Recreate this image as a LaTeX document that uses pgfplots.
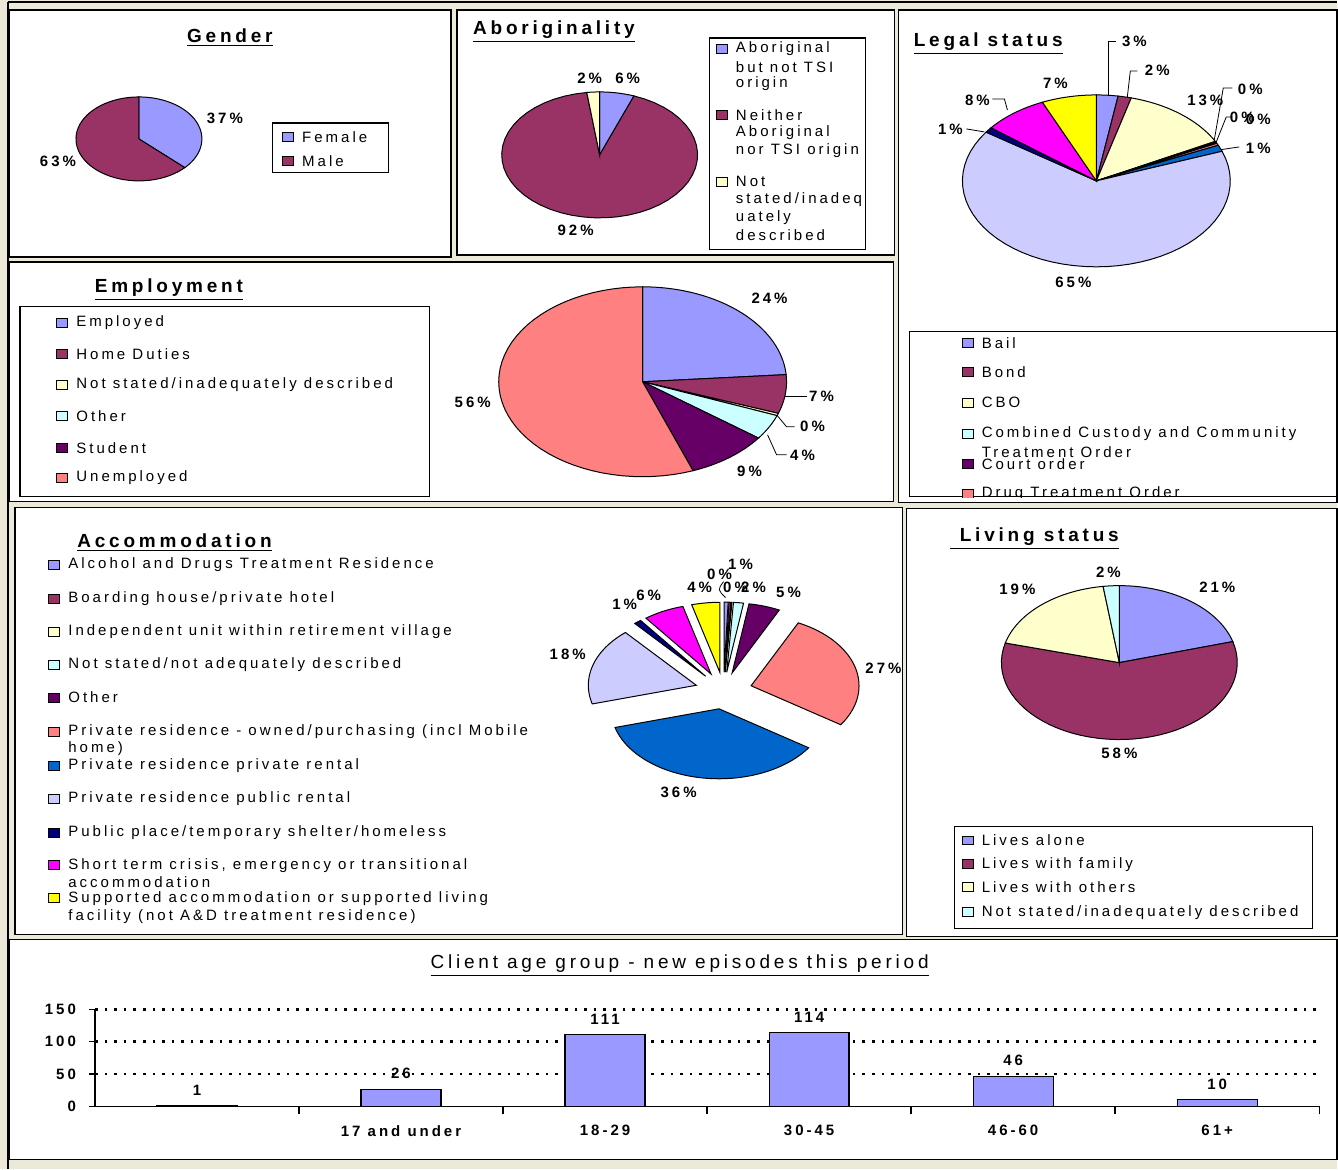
\documentclass[border=0pt]{standalone}
\usepackage{pgfplots}
\pgfplotsset{compat=1.18}
\usepackage{fontspec}
\setmainfont{Liberation Sans}[LetterSpace=20]

% Excel default chart palette
\definecolor{cPeri}{RGB}{153,153,255}
\definecolor{cPlum}{RGB}{153,51,102}
\definecolor{cIvory}{RGB}{255,255,204}
\definecolor{cTurq}{RGB}{204,255,255}
\definecolor{cDPurple}{RGB}{102,0,102}
\definecolor{cCoral}{RGB}{255,128,128}
\definecolor{cOcean}{RGB}{0,102,204}
\definecolor{cIce}{RGB}{204,204,255}
\definecolor{cDBlue}{RGB}{0,0,128}
\definecolor{cMagenta}{RGB}{255,0,255}
\definecolor{cYellow}{RGB}{255,255,0}
\definecolor{cGap}{RGB}{236,233,216}

\newcommand{\fs}{\fontsize{7.5}{8.5}\selectfont}
\tikzset{
  pct/.style={font=\fs\bfseries, inner sep=0pt},
  leg/.style={font=\fs, inner sep=0pt, anchor=west},
  ttl/.style={font=\fontsize{9.5}{11}\selectfont\bfseries, inner sep=0pt},
  ldr/.style={draw=black, line width=0.4pt},
}
\pgfplotsset{pie/.style={hide axis, scale only axis, clip=false,
  xmin=-1, xmax=1, ymin=-1, ymax=1, anchor=center}}

% slices clockwise from 12 o'clock; #1 explode (fraction of radius), #2 value/colour list
\newcommand{\slices}[2]{%
  \gdef\cum{0}%
  \foreach \sv/\sc in {#2}{%
    \pgfmathsetmacro\shi{90-3.6*\cum}%
    \pgfmathsetmacro\slo{90-3.6*(\cum+\sv)}%
    \pgfmathsetmacro\sdx{#1*cos((\shi+\slo)/2)}%
    \pgfmathsetmacro\sdy{#1*sin((\shi+\slo)/2)}%
    \edef\tmp{\noexpand\addplot[fill=\sc, draw=black, line width=0.5pt,
      domain=\slo:\shi, samples=50] ({\sdx+cos(x)},{\sdy+sin(x)}) -- (\sdx,\sdy) -- cycle;}%
    \tmp
    \pgfmathsetmacro\ncum{\cum+\sv}%
    \global\let\cum\ncum
  }%
}
% #1,#2 centre (px), #3,#4 radii (px), #5 explode, #6 data
\newcommand{\piechart}[6]{%
  \begin{axis}[pie, at={(#1*0.5pt,-#2*0.5pt)}, width=#3pt, height=#4pt]
    \slices{#5}{#6}
  \end{axis}}
\newcommand{\legitem}[4]{%
  \filldraw[fill=#3, draw=black, line width=0.5pt] (#1,#2-4.5) rectangle (#1+11,#2+4.5);
  \node[leg] at (#1+19,#2) {#4};}

\begin{document}
\begin{tikzpicture}
\begin{scope}[x=0.5pt,y=-0.5pt]
  \fill[cGap] (0,0) rectangle (1338,1170);
  \draw[line width=0.6pt] (8,2) -- (1338,2);
  \draw[line width=0.6pt] (8,2) -- (8,1170);
  \foreach \a/\b/\c/\d in {9/10/451/257, 457/10/895/255, 899/10/1338/503,
      9/262/894/502, 15/508/903/935, 907/509/1338/937, 9/940/1338/1160}
    \filldraw[fill=white, draw=black, line width=0.8pt] (\a,\b) rectangle (\c,\d);

  % Gender
  \node[ttl] at (230,38) {\underline{Gender}};
  \node[pct] at (225,118) {37\%};
  \node[pct] at (58,161) {63\%};
  \draw[line width=0.6pt] (273,123) rectangle (389,173);
  \legitem{283}{137}{cPeri}{Female}
  \legitem{283}{161}{cPlum}{Male}

  % Aboriginality
  \node[ttl, anchor=west] at (473,32) {\underline{Aboriginality}};
  \node[pct] at (590,78) {2\%};
  \node[pct] at (628,78) {6\%};
  \node[pct] at (576,230) {92\%};
  \draw[line width=0.6pt] (710,38) rectangle (866,250);
  \legitem{717}{49}{cPeri}{Aboriginal}
  \node[leg] at (736,67) {but not TSI};
  \node[leg] at (736,84) {origin};
  \legitem{717}{115}{cPlum}{Neither}
  \node[leg] at (736,133) {Aboriginal};
  \node[leg] at (736,151) {nor TSI origin};
  \legitem{717}{182}{cIvory}{Not}
  \node[leg] at (736,200) {stated/inadeq};
  \node[leg] at (736,218) {uately};
  \node[leg] at (736,235) {described};

  % Legal status
  \node[ttl, anchor=west] at (914,44) {\underline{Legal status}};
  \draw[ldr] (1109,96) -- (1109,41) -- (1117,41);
  \node[pct] at (1135,41) {3\%};
  \draw[ldr] (1128,97) -- (1131,71) -- (1138,71);
  \node[pct] at (1158,70) {2\%};
  \node[pct] at (1206,100) {13\%};
  \draw[ldr] (1215,140) -- (1224,88) -- (1233,88);
  \node[pct] at (1251,89) {0\%};
  \draw[ldr] (1217,142) -- (1227,117) -- (1233,117);
  \node[pct] at (1243,117) {0\%};
  \node[pct] at (1259,119) {0\%};
  \draw[ldr] (1220,150) -- (1240,147);
  \node[pct] at (1259,148) {1\%};
  \node[pct] at (1074,283) {65\%};
  \draw[ldr] (985,132) -- (967,129);
  \node[pct] at (951,129) {1\%};
  \draw[ldr] (1008,110) -- (1005,99) -- (993,99);
  \node[pct] at (978,100) {8\%};
  \node[pct] at (1056,83) {7\%};
  \begin{scope}
    \clip (909,331) rectangle (1338,498);
    \draw[line width=0.6pt] (910,332) rectangle (1345,497);
    \legitem{963}{343}{cPeri}{Bail}
    \legitem{963}{372}{cPlum}{Bond}
    \legitem{963}{403}{cIvory}{CBO}
    \legitem{963}{434}{cTurq}{Combined Custody and Community}
    \node[leg] at (982,452) {Treatment Order};
    \legitem{963}{464}{cDPurple}{Court order}
    \legitem{963}{494}{cCoral}{Drug Treatment Order}
  \end{scope}

  % Employment
  \node[ttl] at (169,290) {\underline{Employment}};
  \draw[line width=0.6pt] (20,307) rectangle (430,497);
  \legitem{57}{323}{cPeri}{Employed}
  \legitem{57}{354}{cPlum}{Home Duties}
  \legitem{57}{385}{cIvory}{Not stated/inadequately described}
  \legitem{57}{416}{cTurq}{Other}
  \legitem{57}{448}{cDPurple}{Student}
  \legitem{57}{478}{cCoral}{Unemployed}
  \node[pct] at (770,299) {24\%};
  \draw[ldr] (785,397) -- (807,397);
  \node[pct] at (822,397) {7\%};
  \draw[ldr] (777,415) -- (787,427) -- (795,427);
  \node[pct] at (813,427) {0\%};
  \draw[ldr] (768,435) -- (777,455) -- (787,455);
  \node[pct] at (803,456) {4\%};
  \node[pct] at (750,472) {9\%};
  \node[pct] at (473,403) {56\%};

  % Accommodation
  \node[ttl, anchor=west] at (77,543) {\underline{Accommodation}};
  \legitem{49}{565}{cPeri}{Alcohol and Drugs Treatment Residence}
  \legitem{49}{599}{cPlum}{Boarding house/private hotel}
  \legitem{49}{632}{cIvory}{Independent unit within retirement village}
  \legitem{49}{665}{cTurq}{Not stated/not adequately described}
  \legitem{49}{698}{cDPurple}{Other}
  \legitem{49}{732}{cCoral}{Private residence - owned/purchasing (incl Mobile}
  \node[leg] at (68,749) {home)};
  \legitem{49}{766}{cOcean}{Private residence private rental}
  \legitem{49}{799}{cIce}{Private residence public rental}
  \legitem{49}{833}{cDBlue}{Public place/temporary shelter/homeless}
  \legitem{49}{866}{cMagenta}{Short term crisis, emergency or transitional}
  \node[leg] at (68,883) {accommodation};
  \legitem{49}{899}{cYellow}{Supported accommodation or supported living}
  \node[leg] at (68,917) {facility (not A\&D treatment residence)};
  \node[pct] at (741,565) {1\%};
  \node[pct] at (720,575) {0\%};
  \node[pct] at (736,588) {0\%};
  \node[pct] at (754,588) {2\%};
  \draw[ldr] (724,582) .. controls (718,590) .. (726,598);
  \node[pct] at (700,588) {4\%};
  \node[pct] at (649,596) {6\%};
  \node[pct] at (625,605) {1\%};
  \node[pct] at (789,593) {5\%};
  \node[pct] at (568,655) {18\%};
  \node[pct] at (884,669) {27\%};
  \node[pct] at (679,793) {36\%};

  % Living status
  \node[ttl, anchor=west] at (950,539) {\underline{\hspace{5pt}Living status}};
  \node[pct] at (1109,573) {2\%};
  \node[pct] at (1218,588) {21\%};
  \node[pct] at (1018,590) {19\%};
  \node[pct] at (1120,754) {58\%};
  \draw[line width=0.6pt] (955,827) rectangle (1313,929);
  \legitem{963}{841}{cPeri}{Lives alone}
  \legitem{963}{865}{cPlum}{Lives with family}
  \legitem{963}{888}{cIvory}{Lives with others}
  \legitem{963}{913}{cTurq}{Not stated/inadequately described}

  % bar chart title
  \node[font=\fontsize{9.5}{11}\selectfont, inner sep=0pt] at (680,966)
    {\underline{Client age group - new episodes this period}};
\end{scope}

\piechart{139}{139}{63}{42}{0}{37/cPeri, 63/cPlum}
\piechart{600}{155}{98}{63}{0}{5.7/cPeri, 92.2/cPlum, 2.1/cIvory}
\piechart{1097}{181}{134}{86}{0}{2.6/cPeri, 1.6/cPlum, 13.2/cIvory, 0.2/cTurq,
  0.2/cDPurple, 0.4/cCoral, 1.2/cOcean, 65.2/cIce, 1.0/cDBlue, 7.8/cMagenta, 6.6/cYellow}
\piechart{643}{382}{144}{95}{0}{23.8/cPeri, 6.6/cPlum, 0.4/cIvory, 4.3/cTurq,
  9.2/cDPurple, 55.7/cCoral}
\piechart{724}{691}{108}{70}{0.264}{0.6/cPeri, 0.3/cPlum, 0.1/cIvory, 1.5/cTurq,
  4.7/cDPurple, 27.2/cCoral, 36.3/cOcean, 17.9/cIce, 1.1/cDBlue, 6.1/cMagenta, 4.2/cYellow}
\piechart{1120}{663}{118}{77}{0}{20.6/cPeri, 58.5/cPlum, 18.7/cIvory, 2.2/cTurq}

\begin{axis}[
  at={(47.5pt,-553.5pt)}, anchor=south west,
  scale only axis, width=612.5pt, height=48.5pt,
  xmin=-0.5, xmax=5.5, ymin=0, ymax=150,
  axis lines*=left, axis line style={-, line width=0.7pt},
  ybar, bar width=40pt,
  tick style={black, line width=0.7pt},
  tick align=outside, major tick length=3pt, minor tick length=4pt,
  xtick={0,1,2,3,4,5},
  xticklabels={,17 and under,18-29,30-45,46-60,61+},
  major x tick style={draw=none},
  minor xtick={0.5,1.5,2.5,3.5,4.5,5.5},
  ytick={50,100,150},
  extra y ticks={0},
  extra y tick style={grid=none},
  ymajorgrids,
  major grid style={black, line width=1.3pt, dash pattern=on 1.3pt off 3.5pt},
  /pgf/number format/assume math mode=true,
  ticklabel style={font=\fs\bfseries},
  xticklabel style={yshift=-3pt},
  yticklabel style={xshift=-3pt},
  nodes near coords,
  every node near coord/.append style={font=\fs\bfseries, yshift=4pt, inner sep=1pt},
]
\addplot[fill=cPeri, draw=black, line width=0.6pt]
  coordinates {(0,1) (1,26) (2,111) (3,114) (4,46) (5,10)};
\end{axis}
\end{tikzpicture}
\end{document}
